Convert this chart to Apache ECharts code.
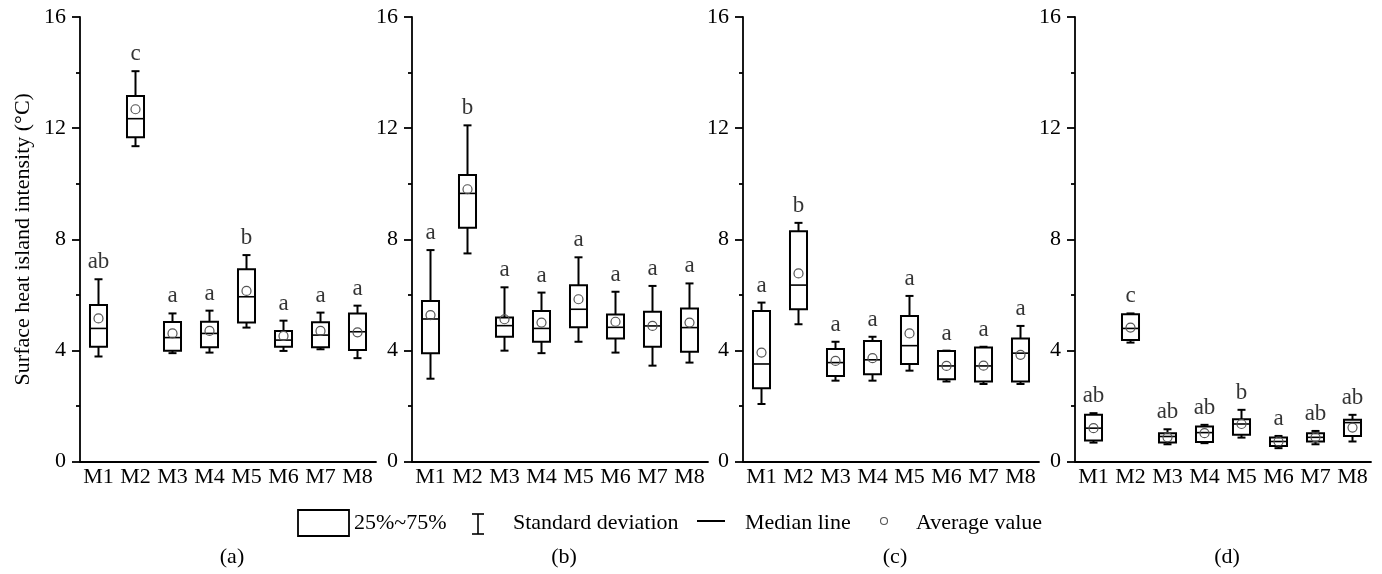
<!DOCTYPE html>
<html>
<head>
<meta charset="utf-8">
<script src="https://cdn.jsdelivr.net/npm/echarts@6/dist/echarts.min.js"></script>
<style>
  html, body { margin: 0; padding: 0; background: #fff; }
  #chart { width: 1382px; height: 574px; }
</style>
</head>
<body>
<div id="chart"></div>
<script>
const categories = ['M1', 'M2', 'M3', 'M4', 'M5', 'M6', 'M7', 'M8'];
const panelNames = ['(a)', '(b)', '(c)', '(d)'];
const yTicks = [0, 4, 8, 12, 16];

// one row per category: [lower whisker, 25%, median, 75%, upper whisker, mean]
const statsA = [
  [3.78, 4.13, 4.79, 5.63, 6.56, 5.15],
  [11.35, 11.67, 12.34, 13.16, 14.05, 12.68],
  [3.90, 3.99, 4.46, 5.02, 5.33, 4.61],
  [3.92, 4.11, 4.61, 5.03, 5.43, 4.70],
  [4.82, 5.00, 5.93, 6.92, 7.43, 6.14],
  [3.98, 4.13, 4.37, 4.70, 5.07, 4.52],
  [4.04, 4.11, 4.55, 5.01, 5.36, 4.70],
  [3.72, 4.01, 4.67, 5.33, 5.61, 4.65]
];
const statsB = [
  [2.98, 3.90, 5.13, 5.78, 7.61, 5.27],
  [7.49, 8.41, 9.65, 10.31, 12.10, 9.80],
  [3.99, 4.49, 4.89, 5.18, 6.27, 5.12],
  [3.90, 4.31, 4.79, 5.42, 6.08, 5.00],
  [4.31, 4.83, 5.48, 6.34, 7.35, 5.84],
  [3.92, 4.43, 4.83, 5.29, 6.11, 5.03],
  [3.45, 4.13, 4.88, 5.39, 6.32, 4.88],
  [3.56, 3.95, 4.82, 5.51, 6.41, 5.00]
];
const statsC = [
  [2.07, 2.64, 3.51, 5.42, 5.72, 3.92],
  [4.94, 5.48, 6.35, 8.29, 8.59, 6.77],
  [2.91, 3.08, 3.56, 4.05, 4.31, 3.62],
  [2.91, 3.14, 3.66, 4.34, 4.49, 3.72],
  [3.27, 3.51, 4.17, 5.24, 5.96, 4.61],
  [2.88, 2.96, 3.44, 3.98, 3.99, 3.44],
  [2.79, 2.88, 3.44, 4.10, 4.13, 3.45],
  [2.79, 2.88, 3.90, 4.43, 4.88, 3.84]
];
const statsD = [
  [0.68, 0.76, 1.20, 1.68, 1.74, 1.20],
  [4.28, 4.37, 4.79, 5.30, 5.33, 4.82],
  [0.62, 0.68, 0.90, 1.02, 1.16, 0.87],
  [0.66, 0.70, 1.04, 1.26, 1.32, 1.02],
  [0.86, 0.96, 1.35, 1.52, 1.86, 1.35],
  [0.48, 0.56, 0.72, 0.86, 0.92, 0.72],
  [0.62, 0.72, 0.87, 1.02, 1.10, 0.87],
  [0.72, 0.92, 1.40, 1.50, 1.68, 1.22]
];

const lettersA = ['ab', 'c', 'a', 'a', 'b', 'a', 'a', 'a'];
const lettersB = ['a', 'b', 'a', 'a', 'a', 'a', 'a', 'a'];
const lettersC = ['a', 'b', 'a', 'a', 'a', 'a', 'a', 'a'];
const lettersD = ['ab', 'c', 'ab', 'ab', 'b', 'a', 'ab', 'ab'];

const panels = [
  { stats: statsA, letters: lettersA },
  { stats: statsB, letters: lettersB },
  { stats: statsC, letters: lettersC },
  { stats: statsD, letters: lettersD }
];

const FONT = '"Liberation Serif", "Times New Roman", serif';
const gridLefts = [80, 412, 743, 1075];
const gridW = 296;

const chart = echarts.init(document.getElementById('chart'));

function renderBox(params, api) {
  const x = api.value(0);
  const lo = api.coord([x, api.value(1)]);
  const q1 = api.coord([x, api.value(2)]);
  const md = api.coord([x, api.value(3)]);
  const q3 = api.coord([x, api.value(4)]);
  const hi = api.coord([x, api.value(5)]);
  const mn = api.coord([x, api.value(6)]);
  const bw = api.size([1, 0])[0] * 0.46;
  const cx = lo[0];
  const cap = 4;
  const st = { stroke: '#000', lineWidth: 2 };
  return {
    type: 'group',
    children: [
      { type: 'line', shape: { x1: cx, y1: q3[1], x2: cx, y2: hi[1] }, style: st },
      { type: 'line', shape: { x1: cx - cap, y1: hi[1], x2: cx + cap, y2: hi[1] }, style: st },
      { type: 'line', shape: { x1: cx, y1: q1[1], x2: cx, y2: lo[1] }, style: st },
      { type: 'line', shape: { x1: cx - cap, y1: lo[1], x2: cx + cap, y2: lo[1] }, style: st },
      { type: 'rect', shape: { x: cx - bw / 2, y: q3[1], width: bw, height: q1[1] - q3[1] },
        style: { stroke: '#000', lineWidth: 2, fill: '#fff' } },
      { type: 'line', shape: { x1: cx - bw / 2, y1: md[1], x2: cx + bw / 2, y2: md[1] }, style: { stroke: '#000', lineWidth: 1.6 } },
      { type: 'circle', shape: { cx: cx, cy: mn[1], r: 4.5 },
        style: { stroke: '#555', lineWidth: 1.2, fill: 'transparent' } }
    ]
  };
}

const grids = [], xAxes = [], yAxes = [], series = [];
panels.forEach((p, k) => {
  grids.push({ left: gridLefts[k], width: gridW, top: 17, bottom: 112.5 });
  xAxes.push({
    type: 'category', gridIndex: k, data: categories,
    axisLine: { lineStyle: { color: '#000', width: 1.8 } },
    axisTick: { alignWithLabel: true, length: 8, lineStyle: { color: '#000', width: 1.8 } },
    axisLabel: { interval: 0, color: '#000', fontFamily: FONT, fontSize: 22, margin: 5 },
    splitLine: { show: false }
  });
  yAxes.push({
    type: 'value', gridIndex: k, min: yTicks[0], max: yTicks[yTicks.length - 1], interval: 4,
    name: k === 0 ? 'Surface heat island intensity (°C)' : '',
    nameLocation: 'middle', nameGap: 46,
    nameTextStyle: { color: '#000', fontFamily: FONT, fontSize: 22 },
    axisLine: { show: true, lineStyle: { color: '#000', width: 1.8 } },
    axisTick: { show: true, length: 8, lineStyle: { color: '#000', width: 1.8 } },
    minorTick: { show: true, splitNumber: 2, length: 4, lineStyle: { color: '#000', width: 1.8 } },
    axisLabel: { color: '#000', fontFamily: FONT, fontSize: 22, margin: 14 },
    splitLine: { show: false }
  });
  series.push({
    type: 'custom', xAxisIndex: k, yAxisIndex: k,
    renderItem: renderBox,
    encode: { x: 0, y: [1, 2, 3, 4, 5, 6] },
    data: p.stats.map((r, i) => [i].concat(r)),
    silent: true, animation: false
  });
  series.push({
    type: 'scatter', xAxisIndex: k, yAxisIndex: k,
    symbolSize: 1, itemStyle: { color: 'rgba(0,0,0,0)' },
    data: p.stats.map((r, i) => [i, r[4]]),
    label: {
      show: true, position: 'top', distance: 5,
      color: '#000', fontFamily: FONT, fontSize: 23,
      formatter: (d) => p.letters[d.dataIndex]
    },
    silent: true, animation: false
  });
});

const legendY = 523;
const txt = (x, y, s, align) => ({
  type: 'text', x: x, y: y,
  style: { text: s, fill: '#000', font: '22px ' + FONT, textAlign: align || 'left', textVerticalAlign: 'middle' }
});
const graphics = [
  { type: 'rect', shape: { x: 298, y: 510, width: 51, height: 26 }, style: { stroke: '#000', lineWidth: 1.8, fill: '#fff' } },
  txt(354, legendY, '25%~75%'),
  { type: 'line', shape: { x1: 478, y1: 514, x2: 478, y2: 534 }, style: { stroke: '#000', lineWidth: 1.6 } },
  { type: 'line', shape: { x1: 472, y1: 514, x2: 484, y2: 514 }, style: { stroke: '#000', lineWidth: 1.6 } },
  { type: 'line', shape: { x1: 472, y1: 534, x2: 484, y2: 534 }, style: { stroke: '#000', lineWidth: 1.6 } },
  txt(513, legendY, 'Standard deviation'),
  { type: 'line', shape: { x1: 697, y1: 521, x2: 725, y2: 521 }, style: { stroke: '#000', lineWidth: 2 } },
  txt(745, legendY, 'Median line'),
  { type: 'circle', shape: { cx: 884, cy: 521, r: 3.5 }, style: { stroke: '#555', lineWidth: 1.1, fill: 'transparent' } },
  txt(916, legendY, 'Average value')
];
panelNames.forEach((n, k) => {
  graphics.push(txt(gridLefts[k] + gridW / 2 + 4, 557, n, 'center'));
});

chart.setOption({
  animation: false,
  backgroundColor: '#fff',
  grid: grids,
  xAxis: xAxes,
  yAxis: yAxes,
  series: series,
  graphic: graphics
});
</script>
</body>
</html>
